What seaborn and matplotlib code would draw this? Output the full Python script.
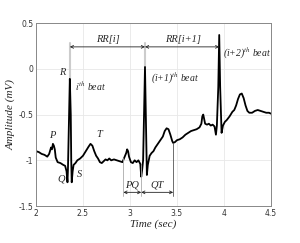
import numpy as np
import pandas as pd
import matplotlib
matplotlib.use("Agg")
import matplotlib.pyplot as plt
import seaborn as sns

### ECG trace (time in sec, amplitude in mV)
time_sec = [2.00, 2.03, 2.06, 2.09, 2.12, 2.14, 2.16, 2.17, 2.18, 2.19, 2.20, 2.21, 2.23, 2.26,
            2.29, 2.31, 2.325, 2.335, 2.34, 2.35, 2.36, 2.37, 2.375, 2.38, 2.39, 2.40, 2.42, 2.44,
            2.47, 2.50, 2.53, 2.56, 2.58, 2.60, 2.62, 2.64, 2.66, 2.68, 2.70, 2.72, 2.74, 2.76,
            2.78, 2.80, 2.83, 2.86, 2.89, 2.92, 2.94, 2.96, 2.97, 2.98, 2.99, 3.01, 3.03, 3.05,
            3.07, 3.09, 3.11, 3.12, 3.13, 3.14, 3.15, 3.16, 3.17, 3.18, 3.19, 3.21, 3.23, 3.25,
            3.27, 3.29, 3.31, 3.33, 3.35, 3.37, 3.39, 3.41, 3.43, 3.45, 3.46, 3.48, 3.50, 3.53,
            3.56, 3.59, 3.62, 3.65, 3.68, 3.71, 3.74, 3.76, 3.77, 3.78, 3.79, 3.80, 3.82, 3.84,
            3.86, 3.88, 3.90, 3.915, 3.925, 3.94, 3.95, 3.96, 3.975, 3.99, 4.01, 4.03, 4.06, 4.09,
            4.11, 4.13, 4.15, 4.17, 4.19, 4.21, 4.23, 4.25, 4.27, 4.30, 4.33, 4.36, 4.39, 4.42,
            4.45, 4.48, 4.50]
amp_mv = [-0.90, -0.91, -0.93, -0.94, -0.96, -0.93, -0.86, -0.88, -0.82, -0.84, -0.88, -0.97, -1.02, -1.03,
          -1.05, -1.06, -1.12, -1.24, -1.10, -0.60, -0.11, -0.50, -1.00, -1.24, -1.12, -1.05, -1.03, -1.00,
          -0.98, -0.95, -0.90, -0.85, -0.82, -0.84, -0.90, -0.95, -0.98, -1.02, -1.03, -1.01, -0.99, -1.00,
          -0.98, -1.00, -0.99, -1.00, -1.01, -1.02, -0.97, -0.92, -0.88, -0.90, -0.96, -1.02, -1.03, -1.00,
          -1.02, -1.00, -1.04, -1.18, -1.10, -1.00, -0.50, 0.02, -0.60, -1.16, -1.05, -0.95, -0.92, -0.90,
          -0.86, -0.83, -0.80, -0.77, -0.74, -0.68, -0.65, -0.66, -0.72, -0.79, -0.81, -0.80, -0.78, -0.77,
          -0.75, -0.72, -0.70, -0.68, -0.67, -0.66, -0.64, -0.60, -0.52, -0.50, -0.55, -0.60, -0.61, -0.60,
          -0.62, -0.61, -0.63, -0.72, -0.62, -0.20, 0.37, -0.20, -0.70, -0.62, -0.58, -0.56, -0.52, -0.47,
          -0.45, -0.40, -0.33, -0.28, -0.27, -0.32, -0.40, -0.46, -0.48, -0.48, -0.46, -0.45, -0.46, -0.47,
          -0.48, -0.48, -0.49]

# R peaks (time, amp) and interval markers
r_peaks_t = [2.36, 3.16, 3.95]
r_peaks_a = [-0.11, 0.02, 0.37]
pq_start, q_onset, qt_end = 2.93, 3.12, 3.46

xticks = [2, 2.5, 3, 3.5, 4, 4.5]
yticks = [-1.5, -1, -0.5, 0, 0.5]

df = pd.DataFrame({"t": time_sec, "a": amp_mv})

sns.set_style("whitegrid")
plt.rcParams["mathtext.fontset"] = "stix"
fig, ax = plt.subplots(figsize=(3.0, 2.43), dpi=100)
fig.subplots_adjust(left=0.12, right=0.903, bottom=0.152, top=0.905)

sns.lineplot(data=df, x="t", y="a", color="black", lw=1.3, ax=ax)

ax.set_xlim(2, 4.5)
ax.set_ylim(-1.5, 0.5)
ax.set_xticks(xticks)
ax.set_xticklabels(["2", "2.5", "3", "3.5", "4", "4.5"])
ax.set_yticks(yticks)
ax.set_yticklabels(["-1.5", "-1", "-0.5", "0", "0.5"])
ax.tick_params(labelsize=5.5, colors="#333333", length=2, direction="in", pad=2)
ax.grid(color="#e8e8e8", lw=0.6)
for s in ax.spines.values():
    s.set_color("#888888")
    s.set_linewidth(0.7)

serif = dict(family="Liberation Serif", style="italic")
ax.set_xlabel("Time (sec)", fontsize=8, labelpad=1, **serif)
ax.set_ylabel("Amplitude (mV)", fontsize=8, labelpad=2, **serif)

### RR interval markers
rr_y = 0.24
for t, a in zip(r_peaks_t[:2], r_peaks_a[:2]):
    ax.plot([t, t], [a, rr_y + 0.04], color="#cccccc", lw=1.5, zorder=1)
ax.annotate("", xy=(r_peaks_t[0], rr_y), xytext=(r_peaks_t[1], rr_y),
            arrowprops=dict(arrowstyle="<->", color="#222222", lw=0.6, mutation_scale=5,
                            shrinkA=0, shrinkB=0))
ax.annotate("", xy=(r_peaks_t[1], rr_y), xytext=(r_peaks_t[2], rr_y),
            arrowprops=dict(arrowstyle="<->", color="#222222", lw=0.6, mutation_scale=5,
                            shrinkA=0, shrinkB=0))
ax.text(2.77, rr_y + 0.03, "RR[i]", fontsize=7.5, ha="center", va="bottom", **serif)
ax.text(3.56, rr_y + 0.03, "RR[i+1]", fontsize=7.5, ha="center", va="bottom", **serif)

### PQ / QT markers
iv_y = -1.35
ax.plot([pq_start, pq_start], [-0.98, iv_y - 0.04], color="#aaaaaa", lw=0.6)
ax.plot([q_onset, q_onset], [-1.05, iv_y - 0.04], color="#aaaaaa", lw=0.6)
ax.plot([qt_end, qt_end], [-0.81, iv_y - 0.04], color="#555555", lw=0.6)
for a0, a1 in [(pq_start, q_onset), (q_onset, qt_end)]:
    ax.annotate("", xy=(a0, iv_y), xytext=(a1, iv_y),
                arrowprops=dict(arrowstyle="<->", color="#222222", lw=0.6, mutation_scale=5,
                                shrinkA=0, shrinkB=0))
ax.text(3.02, iv_y + 0.03, "PQ", fontsize=7.5, ha="center", va="bottom", **serif)
ax.text(3.29, iv_y + 0.03, "QT", fontsize=7.5, ha="center", va="bottom", **serif)

### wave labels
ax.text(2.31, -0.04, "R", fontsize=7.5, ha="right", va="center", **serif)
ax.text(2.17, -0.78, "P", fontsize=7.5, ha="center", va="bottom", **serif)
ax.text(2.67, -0.77, "T", fontsize=7.5, ha="center", va="bottom", **serif)
ax.text(2.27, -1.2, "Q", fontsize=7.5, ha="center", va="center", **serif)
ax.text(2.46, -1.16, "S", fontsize=7.5, ha="center", va="center", **serif)
ax.text(2.41, -0.19, r"$i^{th}$ beat", fontsize=7, ha="left", va="center", **serif)
ax.text(3.22, -0.11, r"(i+1)$^{th}$ beat", fontsize=7, ha="left", va="center", **serif)
ax.text(3.99, 0.17, r"(i+2)$^{th}$ beat", fontsize=7, ha="left", va="center", **serif)

fig.savefig("out.png", dpi=100)
